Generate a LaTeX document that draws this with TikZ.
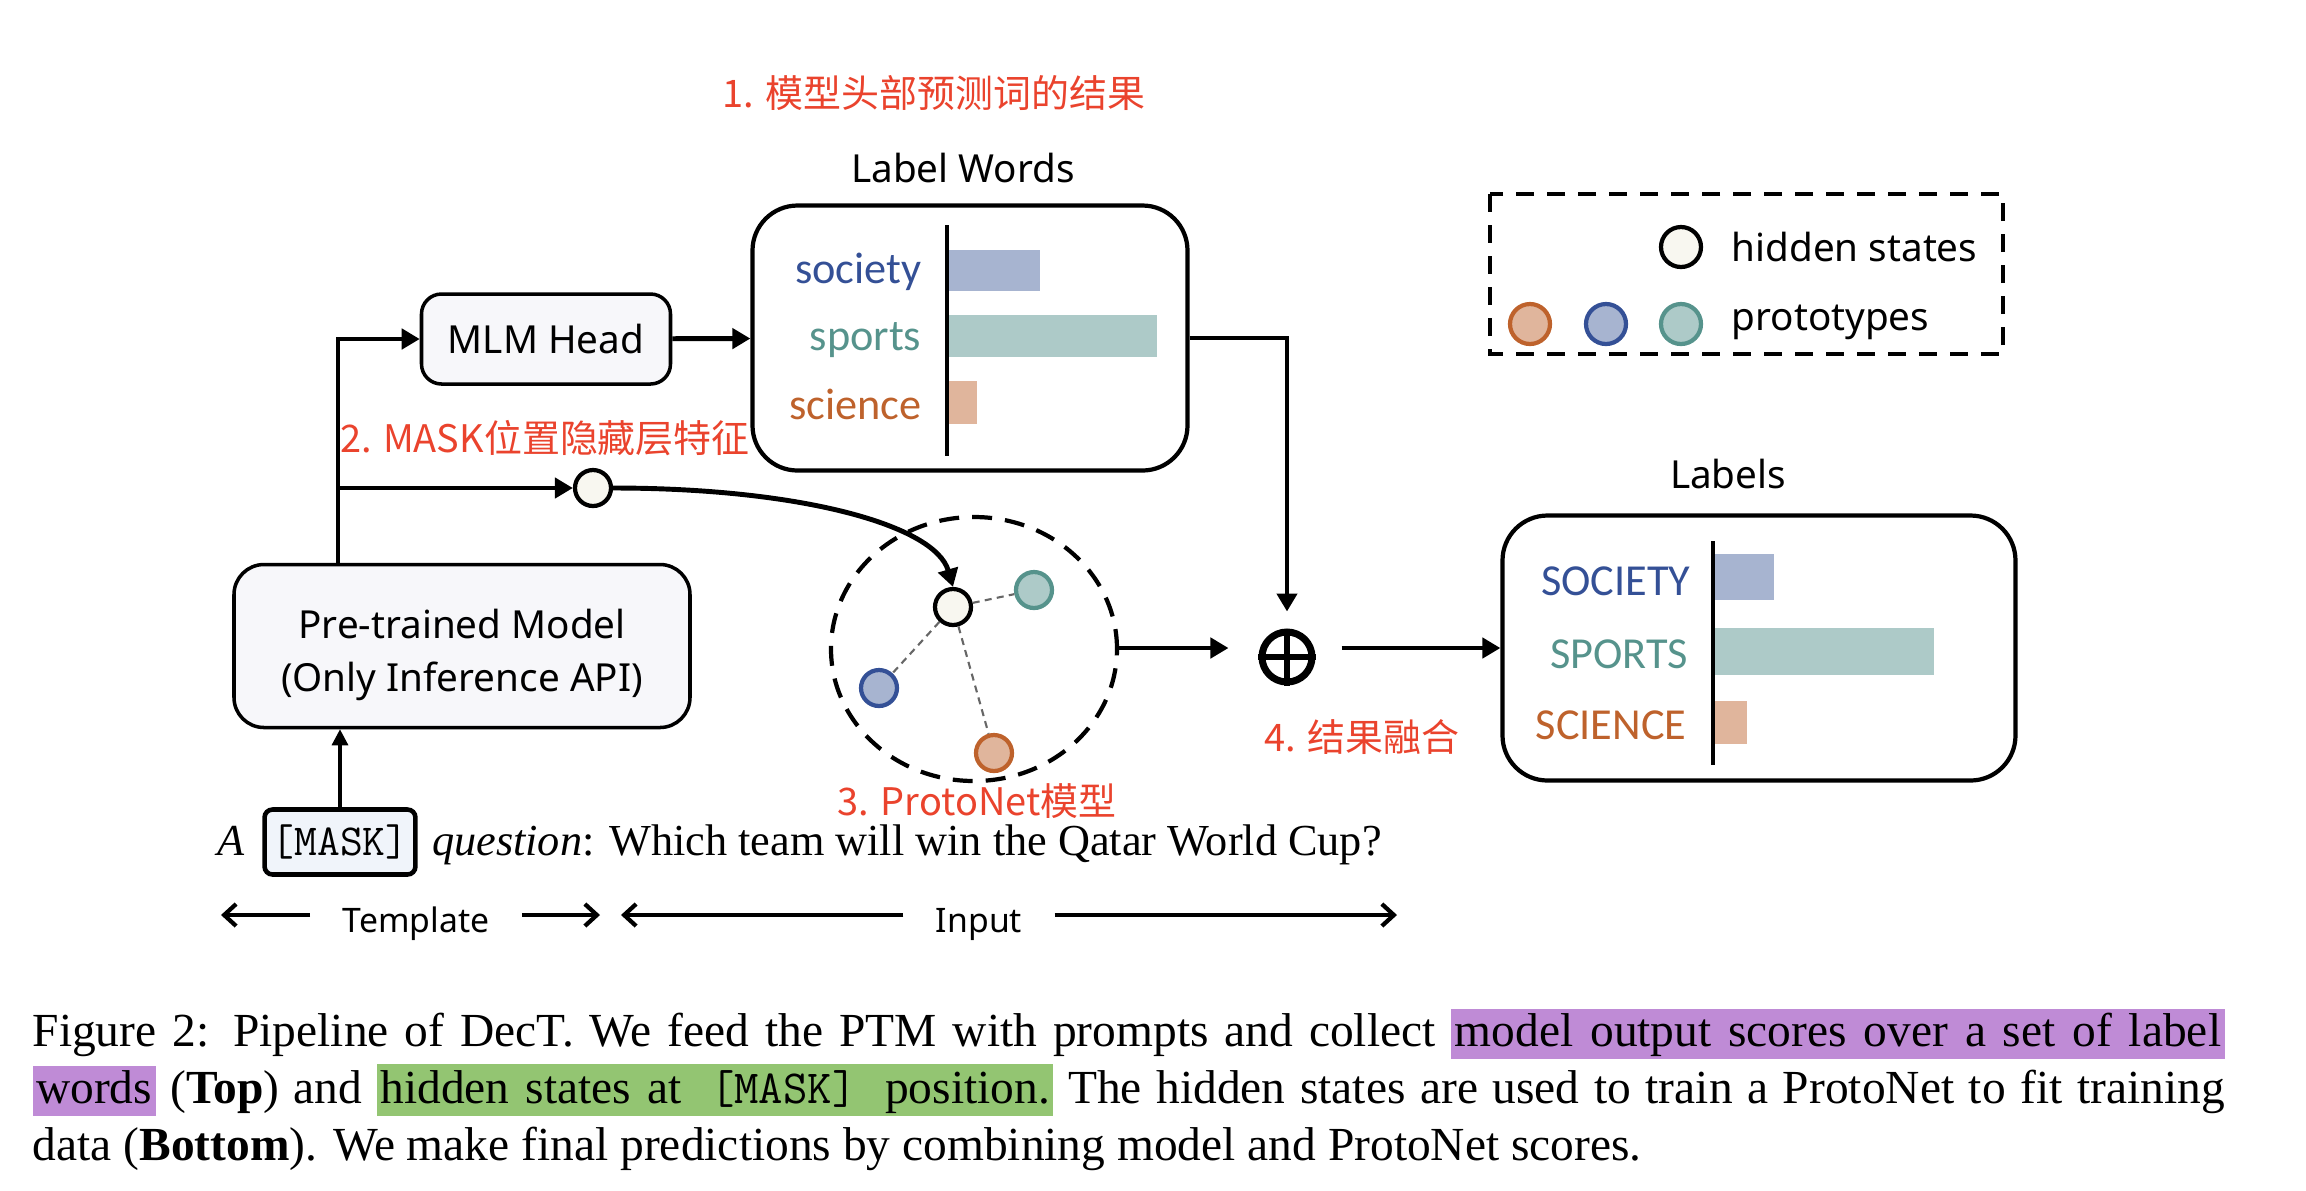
\documentclass[tikz,border=0pt]{standalone}
\usepackage{fontspec}
\setmainfont{Liberation Serif}
\setsansfont{Noto Sans}
\newfontfamily\cjkfont{Noto Sans CJK SC}
\newfontfamily\wordfont{Carlito}
\usetikzlibrary{arrows.meta}
\usetikzlibrary{shapes.geometric}

\definecolor{notered}{RGB}{234,67,45}
\definecolor{boxfill}{RGB}{247,247,250}
\definecolor{statefill}{RGB}{248,247,240}
\definecolor{maskfill}{RGB}{240,244,250}
\definecolor{societyc}{RGB}{52,80,150}
\definecolor{societybar}{RGB}{167,180,208}
\definecolor{sportsc}{RGB}{86,147,140}
\definecolor{sportsbar}{RGB}{173,202,200}
\definecolor{sciencec}{RGB}{190,98,44}
\definecolor{sciencebar}{RGB}{224,181,156}
\definecolor{hlpurple}{RGB}{191,139,214}
\definecolor{hlgreen}{RGB}{147,197,114}

\newcommand{\hlpurple}[1]{{\setlength{\fboxsep}{0pt}\colorbox{hlpurple}{\spaceskip=4.8pt plus 1pt\kern1pt\rule[-3.4pt]{0pt}{14.2pt}#1\kern1pt}}}
\newcommand{\hlgreen}[1]{{\setlength{\fboxsep}{0pt}\colorbox{hlgreen}{\spaceskip=4.6pt plus 1pt\kern1pt\rule[-3.4pt]{0pt}{14.8pt}#1\kern1pt}}}

\begin{document}
\begin{tikzpicture}[x=0.1mm, y={(0,-0.1mm)}, font=\sffamily\fontsize{11}{15}\selectfont,
    box/.style={draw, line width=1pt, rounded corners=0.3cm, fill=boxfill, align=center},
    panel/.style={draw, line width=1.2pt, rounded corners=0.45cm, minimum width=#1, minimum height=2.65cm},
    arr/.style={-{Triangle[length=0.18cm,width=0.2cm]}, line width=1.4pt},
    spanarr/.style={-{Straight Barb[length=0.12cm,width=0.22cm]}, line width=1.2pt},
    state/.style={circle, draw, line width=1.2pt, fill=statefill, minimum size=0.36cm, inner sep=0},
    proto/.style={circle, draw=#1c, fill=#1bar, line width=1.2pt, minimum size=0.36cm, inner sep=0},
    link/.style={gray!80!black, line width=0.6pt, dash pattern=on 2pt off 1.5pt},
    word/.style={anchor=east, inner sep=0, font=\wordfont\fontsize{12.6}{15}\selectfont},
    note/.style={text=notered, font=\cjkfont\fontsize{10.8}{13}\selectfont},
    span/.style={inner xsep=0.32cm, font=\sffamily\fontsize{9.6}{12}\selectfont}]
    \useasboundingbox (0,0) rectangle (2306,1190);

    % model and head
    \node[box, minimum width=4.56cm, minimum height=1.63cm] (ptm) at (462,646) {\rule{0pt}{13.5pt}Pre-trained Model\\(Only Inference API)};
    \node[box, rounded corners=0.2cm, minimum width=2.49cm, minimum height=0.9cm] (mlm) at (546,339) {MLM Head};

    % label words panel
    \node[panel=4.35cm] (words) at (970,338) {};
    \node (wordstitle) at (963,168) {Label Words};
    \fill[societybar] (947,250) rectangle (1040,291);
    \fill[sportsbar] (947,315) rectangle (1157,357);
    \fill[sciencebar] (947,381) rectangle (977,424);
    \draw[line width=1.3pt] (947,225) -- (947,456);
    \node[word, text=societyc] (society) at (922,272) {society};
    \node[word, text=sportsc] (sports) at (922,340) {sports};
    \node[word, text=sciencec] (science) at (922,404) {science};

    % labels panel
    \node[panel=5.13cm] (labels) at (1759,648) {};
    \node (labelstitle) at (1728,474) {Labels};
    \fill[societybar] (1713,554) rectangle (1774,600);
    \fill[sportsbar] (1713,628) rectangle (1934,675);
    \fill[sciencebar] (1713,701) rectangle (1747,744);
    \draw[line width=1.3pt] (1713,541) -- (1713,765);
    \node[word, text=societyc] (bigsociety) at (1691,581) {SOCIETY};
    \node[word, text=sportsc] (bigsports) at (1689,654) {SPORTS};
    \node[word, text=sciencec] (bigscience) at (1687,725) {SCIENCE};

    % legend
    \draw[line width=1.3pt, dash pattern=on 0.18cm off 0.13cm] (1490,194) rectangle (2003,354);
    \node[state, minimum size=0.4cm] (lhid) at (1681,247) {};
    \node[proto=science, minimum size=0.4cm] (lorange) at (1530,324) {};
    \node[proto=society, minimum size=0.4cm] (lblue) at (1606,324) {};
    \node[proto=sports, minimum size=0.4cm] (lteal) at (1681,324) {};
    \node[anchor=west, inner sep=0] (lhidtext) at (1731,247) {hidden states};
    \node[anchor=west, inner sep=0] (lprototext) at (1731,322) {prototypes};

    % protonet
    \node[ellipse, draw, line width=1.2pt, dash pattern=on 0.2cm off 0.13cm, minimum width=2.86cm, minimum height=2.64cm] (protonet) at (974,649) {};
    \node[state] (hid) at (593,488) {};
    \node[state] (hin) at (953,607) {};
    \node[proto=sports] (pteal) at (1034,590) {};
    \node[proto=society] (pblue) at (879,688) {};
    \node[proto=science] (porange) at (994,753) {};
    \draw[link] (hin) -- (pteal);
    \draw[link] (hin) -- (pblue);
    \draw[link] (hin) -- (porange);

    % combine
    \node[draw, circle, line width=2pt, minimum size=0.5cm, inner sep=0] (plus) at (1287,657) {};
    \draw[line width=1.5pt] (plus.north) -- (plus.south) (plus.west) -- (plus.east);

    % notes
    \node[note] (note1) at (934,93) {1. 模型头部预测词的结果};
    \node[note] (note2) at (545,438) {2. MASK位置隐藏层特征};
    \node[note] (note3) at (977,801) {3. ProtoNet模型};
    \node[note] (note4) at (1362,737) {4. 结果融合};

    % input sentence
    \node[draw, line width=1.3pt, rounded corners=0.08cm, fill=maskfill, minimum height=0.65cm, inner xsep=2pt,
      font=\ttfamily\fontsize{12.6}{14}\selectfont] (mask) at (340,842) {[MASK]};
    \node[anchor=base east, font=\rmfamily\fontsize{12.6}{14}\selectfont] (worda) at ([xshift=-0.05cm]mask.base west) {\textit{A}};
    \node[anchor=base west, font=\rmfamily\fontsize{12.6}{14}\selectfont] (question) at ([xshift=0.02cm]mask.base east) {\textit{question}: Which team will win the Qatar World Cup?};

    % spans
    \coordinate (tl) at (221,915);
    \coordinate (tr) at (600,915);
    \coordinate (il) at (621,915);
    \coordinate (ir) at (1397,915);
    \node[span] (template) at (416,924) {Template};
    \node[span] (input) at (979,924) {Input};
    \draw[spanarr] (template.west |- tl) -- (tl);
    \draw[spanarr] (template.east |- tr) -- (tr);
    \draw[spanarr] (input.west |- il) -- (il);
    \draw[spanarr] (input.east |- ir) -- (ir);

    % connectors
    \coordinate (split) at (338,488);
    \draw[arr] (ptm.north -| split) |- (mlm.west);
    \draw[arr] (split) -- (hid);
    \draw[arr] (mlm) -- (words);
    \draw[arr, shorten >=0.17cm] (words.east) -| (plus.north);
    \draw[arr] (hid.east) .. controls (800,488) and (935,525) .. (hin.north);
    \draw[arr, shorten >=0.3cm] (protonet.east |- labels.west) -- (plus.west |- labels.west);
    \draw[arr, shorten <=0.26cm] (plus.east |- labels.west) -- (labels.west);
    \draw[-{Triangle[length=0.16cm,width=0.16cm]}, line width=0.9pt] (mask.north) -- (mask.north |- ptm.south);

    % caption
    \node[anchor=north west, text width=21.92cm, align=justify, inner sep=0,
      font=\rmfamily\fontsize{13.5}{16.2}\selectfont] (caption) at (32,1008)
      {Figure 2: Pipeline of DecT. We feed the PTM with prompts and collect \hlpurple{model output scores over a set of label}\linebreak
      \hlpurple{words} (\textbf{Top}) and \hlgreen{hidden states at\hspace{3.5pt} \texttt{[MASK]}\hspace{3.5pt} position.} The hidden states are used to train a ProtoNet to fit training\linebreak
      data (\textbf{Bottom}). We make final predictions by combining model and ProtoNet scores.};
\end{tikzpicture}
\end{document}
